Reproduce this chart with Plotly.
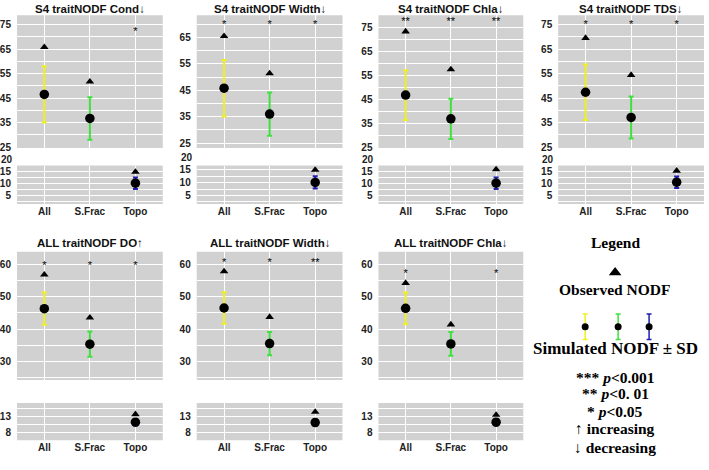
import plotly.graph_objects as go

# ---------------- data ----------------
categories = ["All", "S.Frac", "Topo"]
panel_titles = ["S4 traitNODF Cond↓", "S4 traitNODF Width↓", "S4 traitNODF Chla↓",
                "S4 traitNODF TDS↓", "ALL traitNODF DO↑", "ALL traitNODF Width↓",
                "ALL traitNODF Chla↓"]
sim_mean = [[46.5, 36.7, 10.2], [45.8, 36.0, 10.1], [46.9, 37.0, 10.2], [47.4, 37.1, 10.4],
            [46.3, 35.3, 11.2], [46.5, 35.5, 11.1], [46.4, 35.4, 11.2]]
sim_sd = [[11.5, 8.7, 2.4], [10.7, 8.2, 2.4], [10.4, 8.4, 2.4], [11.3, 8.6, 2.4],
          [5.0, 3.9, 1.0], [4.9, 3.6, 1.0], [4.9, 3.7, 1.0]]
observed = [[65.8, 51.7, 14.9], [65.5, 51.4, 15.0], [73.4, 57.6, 16.0], [69.5, 54.4, 15.1],
            [56.8, 43.5, 13.6], [57.8, 43.7, 14.3], [54.2, 41.4, 13.4]]
significance = [["", "", "*"], ["*", "*", "*"], ["**", "**", "**"], ["*", "*", "*"],
                ["*", "*", "*"], ["*", "*", "**"], ["*", "", "*"]]
sig_label_y = [72.0, 69.5, 77.2, 74.9, 59.4, 60.2, 56.8]
upper_ticks_top = [25, 35, 45, 55, 65, 75]
lower_ticks_top = [5, 10, 15]
upper_ticks_bottom = [30, 40, 50, 60]
lower_ticks_bottom = [8, 13]
gap_label_top = 20

# ---------------- layout helpers ----------------
W, H = 709, 470
sd_colors = ["#F0F020", "#3FE03F", "#1E1EB0"]
panel_bg = "#D1D1D1"
tick_font = dict(family="Liberation Sans", size=10, color="#222222", weight="bold")

panel_x = [(16, 162), (196, 342), (378, 523), (558, 704), (16, 162), (196, 342), (378, 523)]
row_y = [((14.5, 149), (166.7, 205.5)), ((254, 384), (407.3, 445))]
upper_ranges = [[24.6, 78.8], [23.1, 73.4], [24.8, 80.2], [24.6, 78.8],
                [24.2, 63.9], [24.2, 63.9], [24.2, 63.9]]
lower_ranges = [[1.5, 17.6], [1.7, 16.7], [1.5, 17.6], [1.4, 17.3],
                [5.7, 17.0], [5.7, 17.0], [5.7, 17.0]]


def dom_x(a, b):
    return [a / W, b / W]


def dom_y(top, bottom):
    return [1 - bottom / H, 1 - top / H]


def ax_name(k, letter):
    return letter if k == 1 else f"{letter}{k}"


def ax_key(k, letter):
    return f"{letter}axis" if k == 1 else f"{letter}axis{k}"


fig = go.Figure()
layout = dict(width=W, height=H, margin=dict(l=0, r=0, t=0, b=0),
              paper_bgcolor="white", plot_bgcolor="rgba(0,0,0,0)",
              showlegend=False, shapes=[], annotations=[])

for p in range(7):
    row = 0 if p < 4 else 1
    (uy, ly) = row_y[row]
    for part in (0, 1):  # 0 upper, 1 lower
        k = 2 * p + 1 + part
        xn, yn = ax_name(k, "x"), ax_name(k, "y")
        ydom = uy if part == 0 else ly
        if row == 0:
            tv = upper_ticks_top if part == 0 else lower_ticks_top
            minor_vals = [30, 40, 50, 60, 70, 80] if part == 0 else [2.5, 7.5, 12.5, 17.5]
        else:
            tv = upper_ticks_bottom if part == 0 else lower_ticks_bottom
            minor_vals = [25, 35, 45, 55] if part == 0 else [10.5, 15.5]
        yr = upper_ranges[p] if part == 0 else lower_ranges[p]

        layout[ax_key(k, "x")] = dict(
            domain=dom_x(*panel_x[p]), anchor=yn, type="category",
            categoryorder="array", categoryarray=categories, range=[-0.6, 2.6],
            showgrid=True, gridcolor="white", gridwidth=1.3, zeroline=False,
            showline=False, ticks="", showticklabels=(part == 1), tickfont=tick_font)
        layout[ax_key(k, "y")] = dict(
            domain=dom_y(*ydom), anchor=xn, range=yr, tickmode="array",
            tickvals=tv, ticktext=[str(v) for v in tv], tickfont=tick_font,
            showgrid=True, gridcolor="white", gridwidth=1.3, zeroline=False,
            showline=False, ticks="outside", ticklen=3, tickcolor="rgba(0,0,0,0)",
            minor=dict(tickmode="array", tickvals=minor_vals, showgrid=True,
                       gridcolor="white", gridwidth=0.9, ticks=""))
        layout["shapes"].append(dict(type="rect", xref=f"{xn} domain", yref=f"{yn} domain",
                                     x0=0, x1=1, y0=0, y1=1, fillcolor=panel_bg,
                                     line=dict(width=0), layer="below"))

        for i, cat in enumerate(categories):
            fig.add_trace(go.Scatter(
                x=[cat], y=[sim_mean[p][i]], mode="markers", xaxis=xn, yaxis=yn,
                marker=dict(color="black", size=9.5),
                error_y=dict(type="data", array=[sim_sd[p][i]], color=sd_colors[i],
                             thickness=2, width=2.5)))
        fig.add_trace(go.Scatter(
            x=categories, y=observed[p], mode="markers", xaxis=xn, yaxis=yn,
            marker=dict(color="black", size=7.5, symbol="triangle-up")))
        if part == 0:
            sx = [c for c, s in zip(categories, significance[p]) if s]
            st = [s for s in significance[p] if s]
            fig.add_trace(go.Scatter(
                x=sx, y=[sig_label_y[p]] * len(sx), mode="text", text=st,
                textposition="middle center", xaxis=xn, yaxis=yn,
                textfont=dict(family="Liberation Sans", size=11, color="black")))
        elif row == 0:
            # extra "20" tick of the lower axis, shown in the gap above the lower panel
            d0, d1 = layout[ax_key(k, "y")]["domain"]
            frac = (gap_label_top - yr[0]) / (yr[1] - yr[0])
            layout["annotations"].append(dict(
                text=str(gap_label_top), xref="paper", x=(panel_x[p][0] - 3) / W,
                xanchor="right", yref="paper", y=d0 + frac * (d1 - d0), yanchor="middle",
                showarrow=False, font=tick_font, borderpad=0))

    # title
    ty = 8 if row == 0 else 245
    layout["annotations"].append(dict(
        text=panel_titles[p], xref="paper", yref="paper",
        x=(panel_x[p][0] + panel_x[p][1]) / 2 / W, y=1 - ty / H,
        xanchor="center", yanchor="middle", showarrow=False,
        font=dict(family="Liberation Sans", size=11.5, color="#111111", weight="bold")))

# ---------------- legend panel ----------------
kL = 15
xL, yL = ax_name(kL, "x"), ax_name(kL, "y")
layout[ax_key(kL, "x")] = dict(domain=[525 / W, 1], range=[525, 709], visible=False, anchor=yL)
layout[ax_key(kL, "y")] = dict(domain=[0, 235 / H], range=[470, 235], visible=False, anchor=xL)
fig.add_trace(go.Scatter(x=[615], y=[275], mode="markers", xaxis=xL, yaxis=yL,
                         marker=dict(color="black", size=11, symbol="triangle-up")))
for i, gx in enumerate([585, 618, 649]):
    fig.add_trace(go.Scatter(x=[gx], y=[330], mode="markers", xaxis=xL, yaxis=yL,
                             marker=dict(color="black", size=7),
                             error_y=dict(type="data", array=[13], color=sd_colors[i],
                                          thickness=1.5, width=2.5)))

legend_lines = [("Legend", 245, 15.5), ("Observed NODF", 292, 15.5),
                ("Simulated NODF ± SD", 352, 17),
                ("*** <i>p</i>&lt;0.001", 381, 15.5), ("** <i>p</i>&lt;0. 01", 398, 15.5),
                ("* <i>p</i>&lt;0.05", 416, 15.5), ("↑ increasing", 433, 15.5),
                ("↓ decreasing", 452, 15.5)]
for txt, yy, fs in legend_lines:
    layout["annotations"].append(dict(
        text=txt, xref="paper", yref="paper", x=615 / W, y=1 - yy / H,
        xanchor="center", yanchor="middle", showarrow=False,
        font=dict(family="Liberation Serif", size=fs, color="black", weight="bold")))

fig.update_layout(**layout)
fig.write_html("out.html")
